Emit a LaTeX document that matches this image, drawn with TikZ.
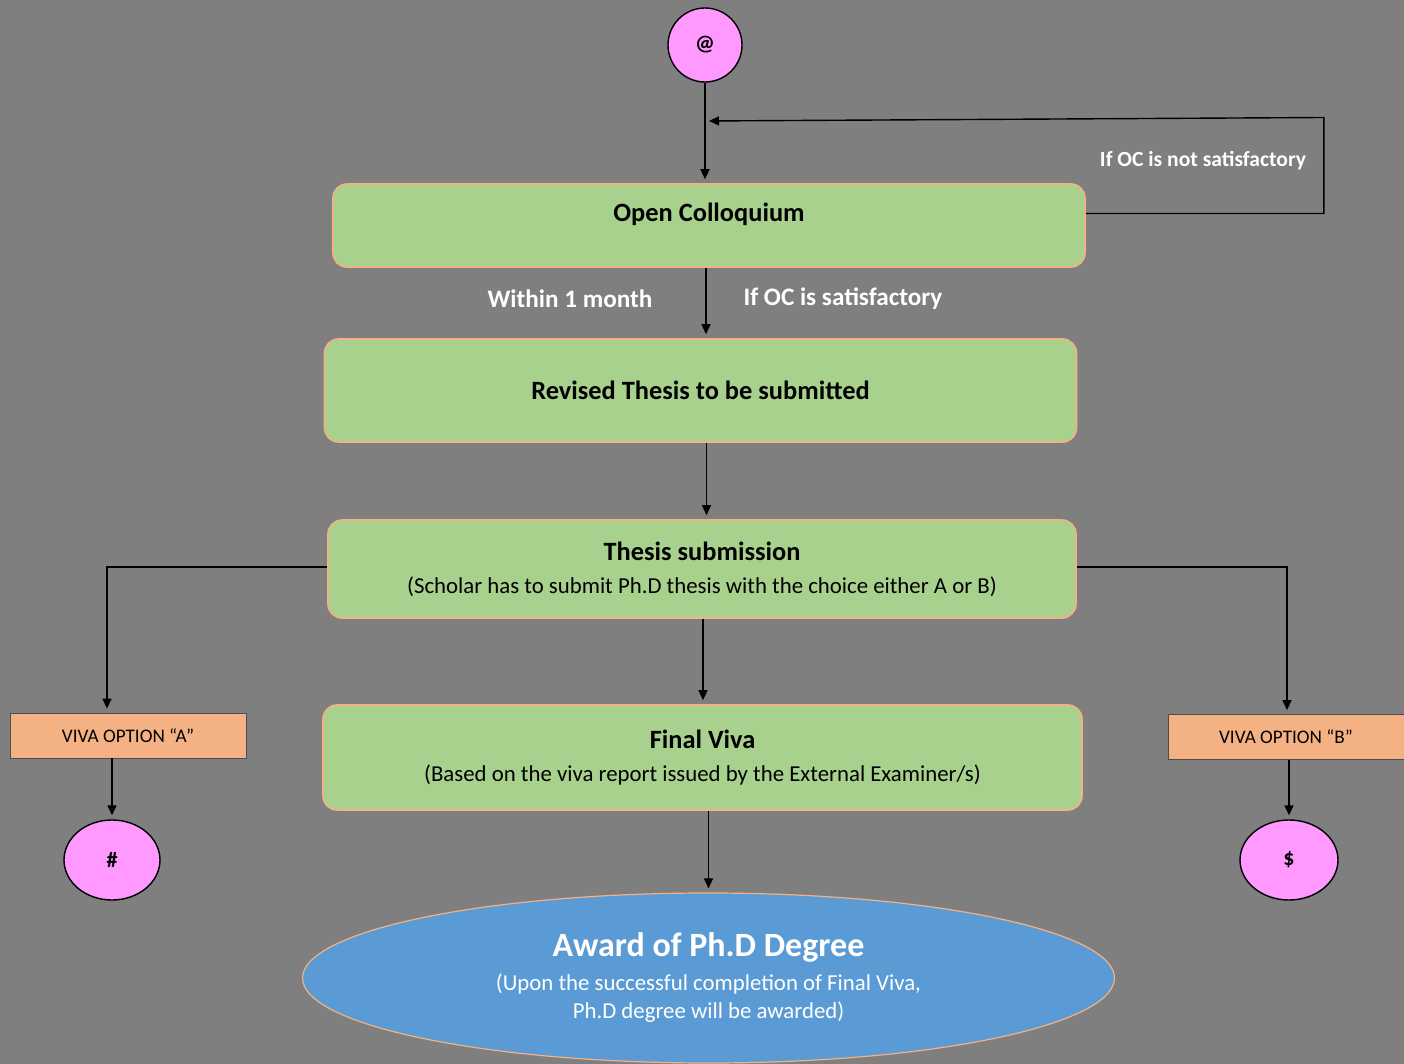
\documentclass[tikz,border=0pt]{standalone}
\usepackage{fontspec}
\setmainfont{Carlito}
\usetikzlibrary{arrows.meta,shapes.geometric,positioning}

\definecolor{bggray}{HTML}{7F7F7F}
\definecolor{stepgreen}{HTML}{A9D18E}
\definecolor{edgeorange}{HTML}{F4B183}
\definecolor{markpink}{HTML}{FF99FF}
\definecolor{awardblue}{HTML}{5B9BD5}
\newcommand{\subtxt}{\fontsize{11.4}{12}\selectfont\mdseries}

\begin{document}
\begin{tikzpicture}[
  x=0.5pt, y=-0.5pt,
  block_step/.style={rectangle, text centered, rounded corners=7pt, draw=edgeorange, line width=0.8pt,
    fill=stepgreen, minimum width=376pt, align=center, font=\fontsize{13.2}{16.5}\selectfont\bfseries},
  block_viva/.style={rectangle, text centered, draw=black!70, fill=edgeorange,
    minimum width=118pt, minimum height=22.5pt, font=\fontsize{9.6}{10}\selectfont},
  block_mark/.style={ellipse, draw=black, line width=0.7pt, fill=markpink,
    minimum width=48pt, minimum height=40pt, inner sep=0pt, font=\fontsize{11}{12}\selectfont\bfseries},
  block_award/.style={ellipse, draw=edgeorange, line width=0.6pt, fill=awardblue, text=white,
    minimum width=406pt, minimum height=85pt, align=center, inner sep=0pt,
    font=\fontsize{11.4}{14}\selectfont},
  note/.style={text=white, font=\fontsize{12.6}{13}\selectfont\bfseries},
  line/.style={draw, black, line width=0.7pt},
  arrow/.style={line, -{Triangle[length=5pt,width=4.5pt]}, shorten >=2pt}
  ]

\useasboundingbox (0,0) rectangle (1404,1064);
\fill [bggray] (0,0) rectangle (1404,1064);

% steps
\node [block_mark, minimum width=37pt, minimum height=37pt] (at) at (705,45) {@};
\node [block_step, minimum height=41.5pt, text depth=13pt] (oc) at (709,225.5) {Open Colloquium};
\node [block_step, minimum height=51.5pt] (rt) at (700.5,390.5) {Revised Thesis to be submitted};
\node [block_step, minimum width=374pt, minimum height=49pt] (ts) at (702,569)
  {Thesis submission\\{\subtxt (Scholar has to submit Ph.D thesis with the choice either A or B)}};
\node [block_step, minimum width=379.5pt, minimum height=52.5pt] (fv) at (702.5,757.5)
  {Final Viva\\{\subtxt (Based on the viva report issued by the External Examiner/s)}};
\node [block_award] (award) at (708.5,978)
  {{\fontsize{17}{18}\selectfont\bfseries Award of Ph.D Degree}\\[3pt]
   (Upon the successful completion of Final Viva,\\Ph.D degree will be awarded)};

% viva options
\node [block_viva] (vivaa) at (128,735.5) {VIVA OPTION “A”};
\node [block_viva] (vivab) at (1286,737) {VIVA OPTION “B”};
\node [block_mark] (hash) at (112,860) {\#};
\node [block_mark, minimum width=49pt] (dollar) at (1289,860) {\$};

% labels
\node [note] (within) at (570,299) {Within 1 month};
\node [note] (ocyes) at (843,299) {If OC is satisfactory};
\node [note, font=\fontsize{10.8}{11}\selectfont\bfseries] (ocno) at (1203,161) {If OC is not satisfactory};

% connectors
\coordinate (loopin) at (705,121);
\path [arrow] (at.south) -- (at.south |- oc.north);
\path [arrow] ([yshift=6pt]oc.east) -- ++(238,0) -- ++(0,-96) -- (loopin);
\path [arrow] ([xshift=-1.5pt]oc.south) -- ([xshift=-1.5pt]oc.south |- rt.north);
\path [arrow] ([xshift=3pt]rt.south) -- ([xshift=3pt]rt.south |- ts.north);
\path [arrow] ([xshift=0.5pt]ts.south) -- ([xshift=0.5pt]ts.south |- fv.north);
\path [arrow] ([xshift=3pt]fv.south) -- ([xshift=3pt]fv.south |- award.north);
\path [arrow] ([yshift=1pt]ts.west) -| ([xshift=-10.5pt]vivaa.north);
\path [arrow] ([yshift=1pt]ts.east) -| ([xshift=0.5pt]vivab.north);
\path [arrow] (hash.north |- vivaa.south) -- (hash.north);
\path [arrow] (dollar.north |- vivab.south) -- (dollar.north);

\end{tikzpicture}
\end{document}
